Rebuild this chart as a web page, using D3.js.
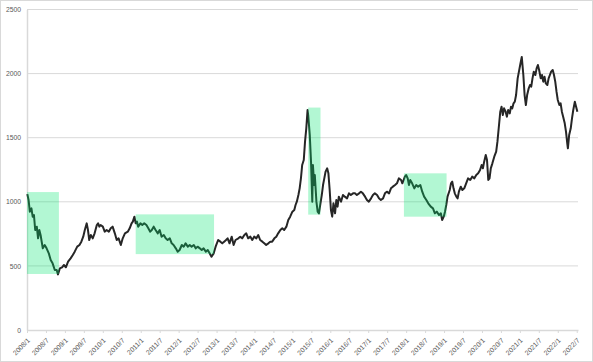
<!DOCTYPE html>
<html>
<head>
<meta charset="utf-8">
<script src="https://cdn.jsdelivr.net/npm/d3@7"></script>
<style>
  body { margin: 0; background: #fff; }
  text { font-family: "Liberation Sans", Arial, sans-serif; }
</style>
</head>
<body>
<svg width="593" height="362"></svg>
<script>
// months since 2008/1 and the index level
var months = [0.1,0.5,0.9,1.4,1.8,2.2,2.6,3.1,3.5,3.9,4.3,5.0,5.6,6.2,6.9,7.5,8.1,8.8,9.4,9.8,10.4,11.1,11.7,12.3,13.0,13.8,14.5,15.1,15.9,16.6,17.2,17.8,18.3,18.9,19.3,19.7,20.2,20.8,21.4,22.1,22.5,22.9,23.3,24.0,24.6,25.2,25.9,26.5,27.1,27.8,28.4,29.0,29.7,30.3,31.0,31.9,32.5,33.1,33.5,34.0,34.4,34.8,35.2,35.9,36.5,37.1,37.8,38.4,39.0,39.5,40.1,40.7,41.4,42.0,42.6,43.3,43.9,44.5,45.2,45.8,46.4,47.1,47.7,48.3,49.0,49.6,50.2,50.9,51.5,52.1,52.8,53.4,54.0,54.7,55.3,55.9,56.6,57.2,57.8,58.4,59.1,59.7,60.5,61.2,61.8,62.4,63.0,63.5,64.1,64.8,65.4,66.0,66.9,67.5,68.1,68.8,69.4,70.0,70.7,71.3,71.9,72.6,73.2,73.8,74.5,75.1,75.7,76.4,77.0,77.6,78.3,78.9,79.5,80.2,80.8,81.4,82.1,82.7,83.3,84.0,84.6,85.0,85.4,85.9,86.3,86.7,87.1,87.6,88.0,88.4,88.8,89.0,89.5,89.9,90.1,90.3,90.5,90.9,91.1,91.6,92.0,92.4,92.8,93.3,93.7,94.1,94.5,95.0,95.4,95.8,96.2,96.6,97.0,97.5,97.9,98.3,98.7,99.4,100.0,100.6,101.3,101.9,102.5,103.2,103.8,104.4,105.1,105.7,106.3,107.0,107.6,108.2,108.9,109.5,110.1,110.8,111.4,112.0,112.7,113.3,113.9,114.6,115.2,115.8,116.5,117.1,117.7,118.4,118.8,119.2,119.6,120.0,120.5,120.9,121.3,121.9,122.6,123.2,123.8,124.5,125.1,125.7,126.4,127.0,127.8,128.5,129.1,129.7,130.4,131.0,131.4,131.9,132.3,132.7,133.1,133.8,134.2,134.6,135.0,135.4,135.9,136.3,136.7,137.3,137.8,138.4,139.0,139.6,140.3,140.9,141.6,142.2,142.8,143.4,143.9,144.3,144.7,145.2,145.6,146.0,146.4,146.8,147.3,147.9,148.5,148.9,149.4,149.8,150.2,150.6,151.0,151.5,151.9,152.3,152.8,153.2,153.6,154.0,154.4,154.8,155.3,155.7,156.1,156.6,157.1,157.5,157.9,158.3,158.8,159.2,159.6,160.0,160.4,160.9,161.3,161.7,162.1,162.6,163.0,163.4,163.8,164.2,164.7,165.1,165.5,165.9,166.4,166.8,167.2,167.6,168.0,168.5,168.9,169.3,169.7,170.2,170.6,171.0,171.2,171.6,172.1,172.5,172.9,173.4,173.8,174.2];
var prices = [1060,1014,923,949,884,897,780,806,715,780,741,637,663,637,598,546,520,468,468,434,481,489,507,489,533,559,585,611,650,663,689,728,780,832,780,702,741,715,754,819,832,806,819,806,767,780,767,793,806,754,702,715,663,715,754,767,793,832,845,884,832,845,806,832,819,832,819,793,767,780,806,780,754,780,728,741,715,702,715,676,663,637,611,624,663,650,676,650,663,650,663,637,650,637,624,637,611,624,598,572,598,650,702,689,676,689,702,715,676,728,663,702,715,728,715,741,754,715,728,702,728,715,741,702,689,676,663,676,689,689,715,728,754,780,793,780,806,858,884,923,936,975,1001,1053,1105,1183,1287,1326,1469,1573,1716,1677,1521,1313,1157,1001,1287,1131,1209,1001,923,910,975,1053,1131,1183,1235,1261,1222,1092,936,884,988,910,1014,962,1040,1001,1053,1040,1027,1066,1053,1066,1066,1053,1066,1079,1066,1040,1014,1001,1027,1053,1066,1053,1027,1014,1027,1066,1079,1066,1105,1118,1131,1144,1183,1170,1144,1170,1196,1209,1183,1131,1170,1144,1105,1131,1118,1131,1079,1040,1014,988,962,949,910,923,897,910,858,884,923,975,1040,1092,1144,1157,1105,1066,1040,1027,1079,1118,1092,1105,1144,1183,1170,1196,1183,1209,1222,1248,1287,1261,1313,1365,1326,1170,1183,1261,1300,1352,1391,1469,1599,1703,1742,1677,1729,1703,1664,1716,1690,1742,1729,1768,1781,1833,1963,2015,2067,2130,1989,1833,1755,1833,1885,1911,1898,1963,2015,1989,2041,2067,2028,1963,1989,1937,1976,1924,1911,1963,1989,2015,2028,1989,1937,1859,1794,1755,1768,1703,1664,1612,1547,1456,1417,1521,1573,1651,1716,1781,1742,1703];

var tickLabels = ["2008/1","2008/7","2009/1","2009/7","2010/1","2010/7","2011/1","2011/7","2012/1","2012/7","2013/1","2013/7","2014/1","2014/7","2015/1","2015/7","2016/1","2016/7","2017/1","2017/7","2018/1","2018/7","2019/1","2019/7","2020/1","2020/7","2021/1","2021/7","2022/1","2022/7"];
var yTicks = [0, 500, 1000, 1500, 2000, 2500];

// highlighted drawdown periods
var boxStart = [0, 34.4, 89.0, 119.3];
var boxEnd = [10.1, 59.2, 92.9, 132.8];
var boxLow = [437, 592, 900, 884];
var boxHigh = [1076, 902, 1735, 1222];

var svg = d3.select("svg");

svg.append("rect")
    .attr("x", 0.5).attr("y", 0.5)
    .attr("width", 592).attr("height", 361)
    .attr("fill", "#fff")
    .attr("stroke", "#d9d9d9");

var x = d3.scaleLinear().domain([0, 174.4]).range([27, 578]);
var y = d3.scaleLinear().domain([0, 2500]).range([330, 9.5]);

//gridlines
svg.append("g")
    .selectAll("line")
    .data(yTicks.slice(1))
    .enter()
    .append("line")
    .attr("x1", x(0)).attr("x2", x(174.4))
    .attr("y1", d => y(d)).attr("y2", d => y(d))
    .attr("stroke", "#d9d9d9")
    .attr("stroke-width", 1);

//y axis
var yAxis = svg.append("g")
    .attr("transform", "translate(27,0)")
    .call(d3.axisLeft(y).tickValues(yTicks).tickFormat(d3.format("d")).tickSize(0).tickPadding(6));
yAxis.select(".domain").attr("stroke", "#d9d9d9").attr("stroke-width", 1.5);
yAxis.selectAll("text").attr("fill", "#595959").attr("font-size", "6.8px");

//x axis
var xAxis = svg.append("g")
    .attr("transform", "translate(0,330)")
    .call(d3.axisBottom(x)
        .tickValues(tickLabels.map((d, i) => i * 6))
        .tickFormat((d, i) => tickLabels[i])
        .tickSizeInner(3).tickSizeOuter(0));
xAxis.select(".domain").attr("stroke", "#d9d9d9").attr("stroke-width", 1.5);
xAxis.selectAll(".tick line").attr("stroke", "#d9d9d9");
xAxis.selectAll("text")
    .attr("fill", "#595959")
    .attr("font-size", "6.8px")
    .attr("text-anchor", "end")
    .attr("dy", "0.35em")
    .attr("transform", "translate(-3,5) rotate(-45)");

//price line
var line = d3.line()
    .x((d, i) => x(months[i]))
    .y(d => y(d));

svg.append("path")
    .datum(prices)
    .attr("d", line)
    .attr("fill", "none")
    .attr("stroke", "#262626")
    .attr("stroke-width", 2)
    .attr("stroke-linejoin", "round");

//green boxes over the line
svg.append("g")
    .selectAll("rect")
    .data(boxStart)
    .enter()
    .append("rect")
    .attr("x", (d, i) => x(boxStart[i]))
    .attr("width", (d, i) => x(boxEnd[i]) - x(boxStart[i]))
    .attr("y", (d, i) => y(boxHigh[i]))
    .attr("height", (d, i) => y(boxLow[i]) - y(boxHigh[i]))
    .attr("fill", "rgb(0,228,110)")
    .attr("fill-opacity", 0.3);
</script>
</body>
</html>
